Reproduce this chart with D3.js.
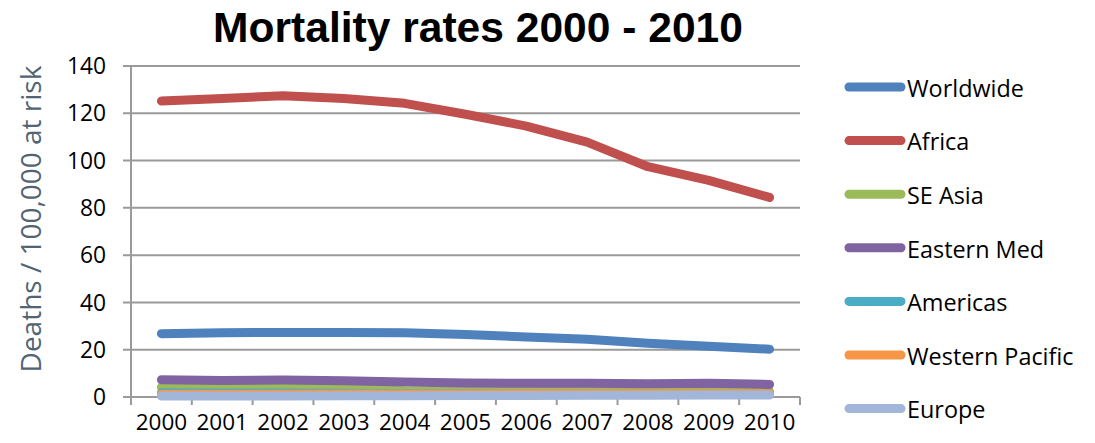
<!DOCTYPE html>
<html>
<head>
<meta charset="utf-8">
<script src="https://cdn.jsdelivr.net/npm/d3@7"></script>
<style>
  html, body { margin: 0; padding: 0; background: #fff; }
  svg { display: block; }
</style>
</head>
<body>
<svg id="chart" width="1095" height="443"></svg>
<script>
const years = ["2000","2001","2002","2003","2004","2005","2006","2007","2008","2009","2010"];
const seriesNames = ["Worldwide","Africa","SE Asia","Eastern Med","Americas","Western Pacific","Europe"];
const worldwide     = [26.8, 27.2, 27.3, 27.3, 27.2, 26.4, 25.4, 24.4, 22.7, 21.5, 20.2];
const africa        = [125.2, 126.3, 127.4, 126.3, 124.2, 119.6, 114.6, 107.8, 97.4, 91.6, 84.4];
const seAsia        = [4.1, 3.9, 3.8, 3.6, 2.6, 2.4, 2.4, 2.3, 2.3, 2.5, 2.3];
const easternMed    = [7.3, 7.0, 7.2, 6.9, 6.3, 5.9, 5.8, 5.8, 5.6, 5.8, 5.3];
const americas      = [1.8, 1.7, 1.7, 1.6, 1.5, 1.4, 1.4, 1.3, 1.3, 1.3, 1.2];
const westernPac    = [1.2, 1.2, 1.2, 1.3, 1.3, 1.3, 1.4, 1.4, 1.4, 1.4, 1.4];
const europe        = [0.4, 0.4, 0.4, 0.5, 0.5, 0.6, 0.6, 0.7, 0.7, 0.8, 0.8];
const yTicks        = [0, 20, 40, 60, 80, 100, 120, 140];
const colors        = ["#4F81BD","#C0504D","#9BBB59","#8064A2","#4BACC6","#F79646","#A1B6D9"];
const titleText     = "Mortality rates 2000 - 2010";
const yTitleText    = "Deaths / 100,000 at risk";

const seriesValues = [worldwide, africa, seAsia, easternMed, americas, westernPac, europe];

const svg = d3.select("#chart");
const plot = { left: 131, right: 800, top: 66, bottom: 397 };
const gridColor = "#9a9a9a";
const font = "'Open Sans', 'Noto Sans', sans-serif";

const x = d3.scaleBand().domain(years).range([plot.left, plot.right]).padding(0);
const y = d3.scaleLinear().domain([0, 140]).range([plot.bottom, plot.top]);

// gridlines + y ticks
const gy = svg.append("g");
yTicks.forEach(t => {
  gy.append("line")
    .attr("x1", plot.left - 8).attr("x2", plot.right)
    .attr("y1", y(t)).attr("y2", y(t))
    .attr("stroke", gridColor).attr("stroke-width", 2);
  gy.append("text")
    .attr("x", 106).attr("y", y(t)).attr("dy", "0.36em")
    .attr("text-anchor", "end")
    .attr("font-family", font).attr("font-size", 22.8)
    .attr("fill", "#000").text(t);
});

// y axis line
svg.append("line")
  .attr("x1", plot.left).attr("x2", plot.left)
  .attr("y1", plot.top).attr("y2", plot.bottom + 8)
  .attr("stroke", gridColor).attr("stroke-width", 2);

// x ticks at category boundaries
const boundaries = years.map(d => x(d)).concat([x(years[years.length - 1]) + x.bandwidth()]);
boundaries.forEach(bx => {
  svg.append("line")
    .attr("x1", bx).attr("x2", bx)
    .attr("y1", plot.bottom).attr("y2", plot.bottom + 8)
    .attr("stroke", gridColor).attr("stroke-width", 2);
});

// x labels
years.forEach(yr => {
  svg.append("text")
    .attr("x", x(yr) + x.bandwidth() / 2).attr("y", 430)
    .attr("text-anchor", "middle")
    .attr("font-family", font).attr("font-size", 22.5)
    .attr("fill", "#000").text(yr);
});

// lines
const line = d3.line()
  .x((d, i) => x(years[i]) + x.bandwidth() / 2)
  .y(d => y(d));

seriesValues.forEach((vals, i) => {
  svg.append("path")
    .datum(vals)
    .attr("d", line)
    .attr("fill", "none")
    .attr("stroke", colors[i])
    .attr("stroke-width", 9)
    .attr("stroke-linecap", "round")
    .attr("stroke-linejoin", "round");
});

// legend
const lg = svg.append("g");
seriesNames.forEach((name, i) => {
  const cy = 87 + i * 53.6;
  lg.append("line")
    .attr("x1", 849).attr("x2", 901)
    .attr("y1", cy).attr("y2", cy)
    .attr("stroke", colors[i]).attr("stroke-width", 9)
    .attr("stroke-linecap", "round");
  lg.append("text")
    .attr("x", 907).attr("y", cy + 9.8)
    .attr("font-family", font).attr("font-size", 23.4)
    .attr("fill", "#000").text(name);
});

// title
const title = svg.append("text")
  .attr("x", 478).attr("y", 42)
  .attr("text-anchor", "middle")
  .attr("font-family", "'Liberation Sans', Arial, sans-serif")
  .attr("font-weight", "bold").attr("font-size", 40)
  .attr("fill", "#000").text(titleText);
const tw = title.node().getComputedTextLength();
title.attr("font-size", 40 * 530 / tw);

// y axis title
const yt = svg.append("text")
  .attr("transform", `translate(41, 219) rotate(-90)`)
  .attr("text-anchor", "middle")
  .attr("font-family", font).attr("font-size", 25)
  .attr("fill", "#506474").text(yTitleText);
const yw = yt.node().getComputedTextLength();
yt.attr("font-size", 25 * 307 / yw);
</script>
</body>
</html>
